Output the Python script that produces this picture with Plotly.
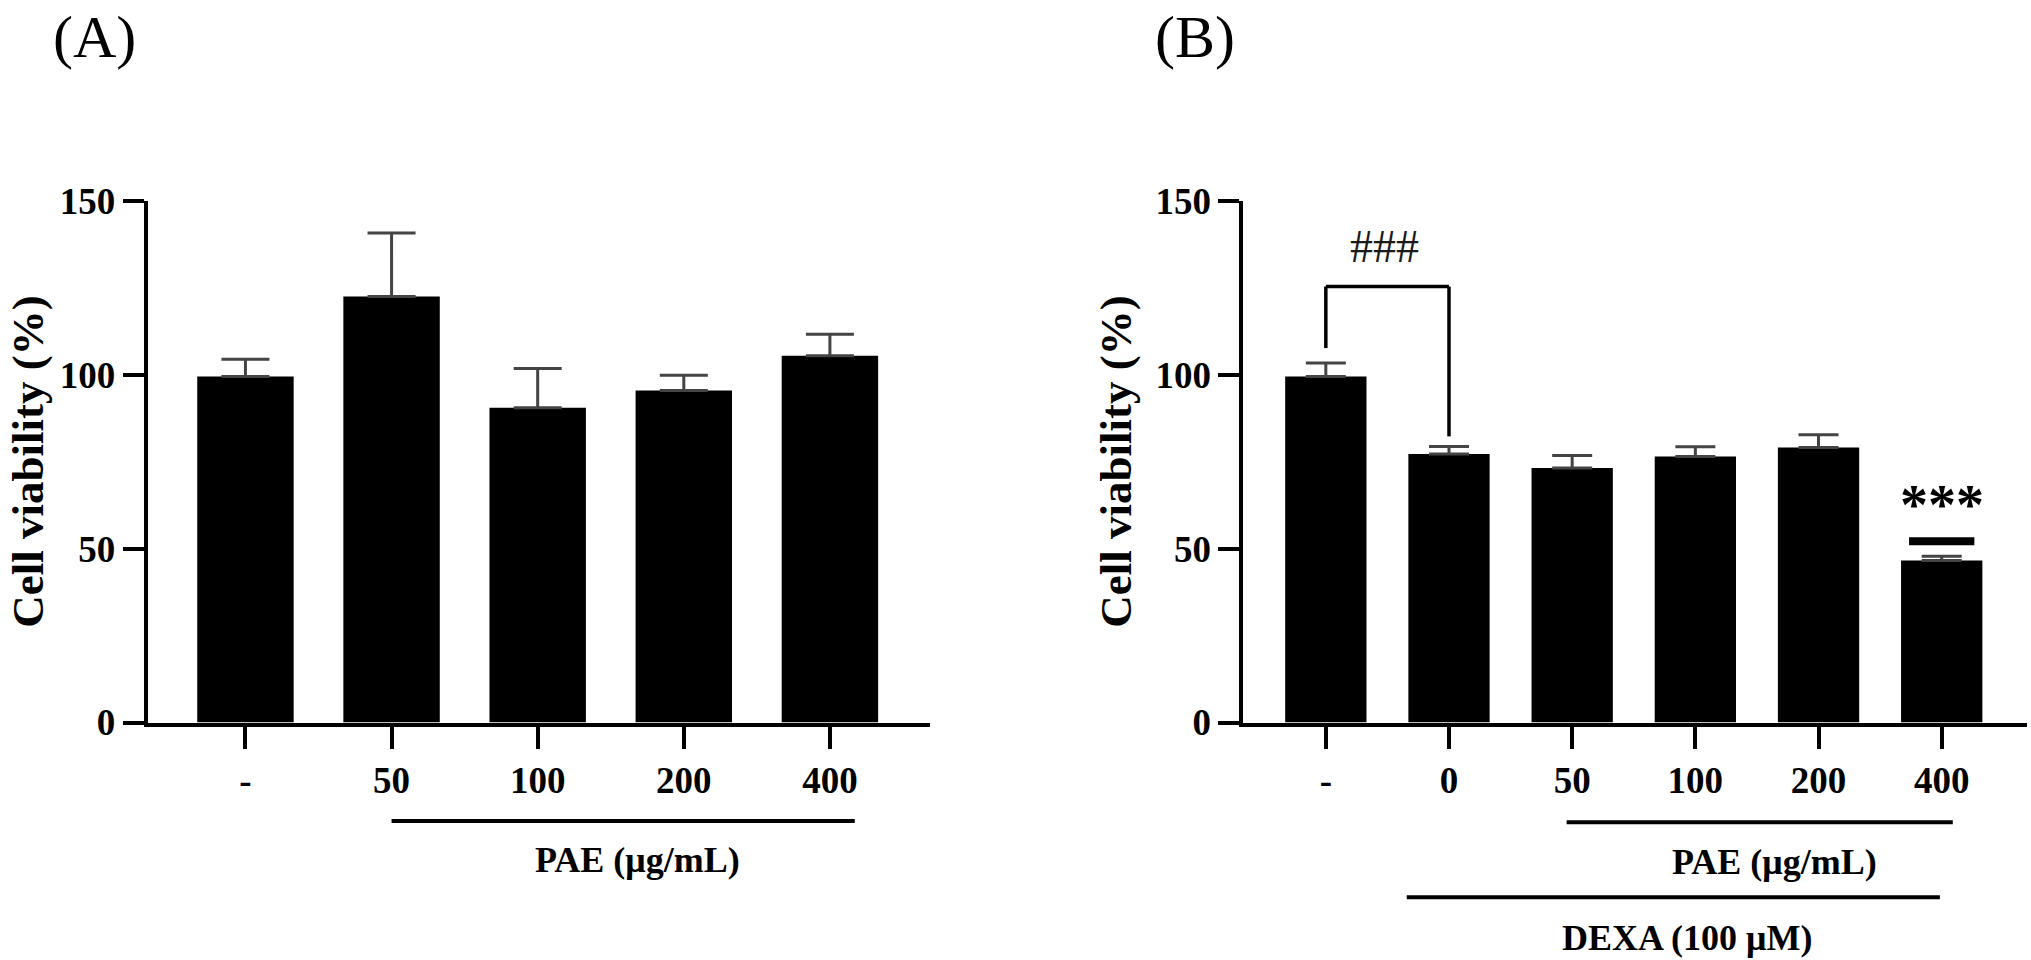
import plotly.graph_objects as go

# ---- data ----
cats_A = ["-", "50", "100", "200", "400"]
mean_A = [99.5, 122.5, 90.5, 95.5, 105.5]
err_A = [5.0, 18.3, 11.3, 4.4, 6.2]

cats_B = ["-", "0", "50", "100", "200", "400"]
mean_B = [99.5, 77.2, 73.2, 76.5, 79.1, 46.6]
err_B = [3.9, 2.2, 3.6, 2.8, 3.7, 1.2]

y_ticks = [0, 50, 100, 150]

SERIF = "Liberation Serif, Times New Roman, serif"
W, H = 2031, 960

fig = go.Figure()

fig.add_trace(go.Bar(
    x=cats_A, y=mean_A, xaxis="x", yaxis="y", width=0.66,
    marker=dict(color="black", line=dict(width=0)),
    error_y=dict(type="data", symmetric=False, array=err_A,
                 arrayminus=[0] * len(err_A), color="#444444",
                 thickness=3, width=24),
    showlegend=False))

fig.add_trace(go.Bar(
    x=cats_B, y=mean_B, xaxis="x2", yaxis="y2", width=0.66,
    marker=dict(color="black", line=dict(width=0)),
    error_y=dict(type="data", symmetric=False, array=err_B,
                 arrayminus=[0] * len(err_B), color="#444444",
                 thickness=3, width=20),
    showlegend=False))

ydom = [(960 - 722.5) / H, (960 - 201) / H]
xdomA = [147.7 / W, 930 / W]
xdomB = [1243.3 / W, 2026.7 / W]

tickfont = dict(family=SERIF, size=37, color="black", weight="bold")

common_x = dict(type="category", showline=True, linewidth=4, linecolor="black",
                ticks="outside", ticklen=22, tickwidth=4, tickcolor="black",
                tickfont=tickfont, showgrid=False, zeroline=False,
                fixedrange=True, automargin=False)
common_y = dict(showline=True, linewidth=4, linecolor="black",
                ticks="outside", ticklen=21, tickwidth=4, tickcolor="black",
                tickfont=tickfont, showgrid=False, zeroline=False,
                range=[0, 150], tickvals=y_ticks, domain=ydom,
                automargin=False)

fig.update_layout(
    template="none",
    width=W, height=H,
    margin=dict(l=0, r=0, t=0, b=0, pad=0),
    paper_bgcolor="white", plot_bgcolor="white",
    xaxis=dict(common_x, domain=xdomA, range=[-0.669, 4.685], anchor="y"),
    yaxis=dict(common_y, anchor="x"),
    xaxis2=dict(common_x, domain=xdomB, range=[-0.67, 5.69], anchor="y2"),
    yaxis2=dict(common_y, anchor="x2"),
)

shapes = []
annotations = []

# Panel titles
annotations.append(dict(text="(A)", xref="paper", yref="paper", x=94 / W, y=(960 - 37) / H,
                        xanchor="center", yanchor="middle", showarrow=False,
                        font=dict(family=SERIF, size=60, color="black")))
annotations.append(dict(text="(B)", xref="paper", yref="paper", x=1195 / W, y=(960 - 37) / H,
                        xanchor="center", yanchor="middle", showarrow=False,
                        font=dict(family=SERIF, size=60, color="black")))

# Y-axis titles
for xc in (28, 1116):
    annotations.append(dict(text="Cell viability (%)", xref="paper", yref="paper",
                            x=xc / W, y=(ydom[0] + ydom[1]) / 2, textangle=-90,
                            xanchor="center", yanchor="middle", showarrow=False,
                            font=dict(family=SERIF, size=45, color="black", weight="bold")))

labfont = dict(family=SERIF, size=36, color="black", weight="bold")

# Panel A underline + label
shapes.append(dict(type="line", xref="x", yref="paper", x0=1.0, x1=4.17,
                   y0=(960 - 821) / H, y1=(960 - 821) / H,
                   line=dict(color="black", width=4)))
annotations.append(dict(text="PAE (μg/mL)", xref="x", yref="paper", x=2.68, y=(960 - 860) / H,
                        xanchor="center", yanchor="middle", showarrow=False, font=labfont))

# Panel B underlines + labels
shapes.append(dict(type="line", xref="x2", yref="paper", x0=1.955, x1=5.09,
                   y0=(960 - 822.3) / H, y1=(960 - 822.3) / H,
                   line=dict(color="black", width=4)))
annotations.append(dict(text="PAE (μg/mL)", xref="x2", yref="paper", x=3.646, y=(960 - 861.7) / H,
                        xanchor="center", yanchor="middle", showarrow=False, font=labfont))
shapes.append(dict(type="line", xref="x2", yref="paper", x0=0.657, x1=4.985,
                   y0=(960 - 897.3) / H, y1=(960 - 897.3) / H,
                   line=dict(color="black", width=4)))
annotations.append(dict(text="DEXA (100 μM)", xref="x2", yref="paper", x=2.932, y=(960 - 938.3) / H,
                        xanchor="center", yanchor="middle", showarrow=False, font=labfont))

# Significance bracket ###
br = dict(color="black", width=3.5)
shapes.append(dict(type="line", xref="x2", yref="y2", x0=0, x1=0, y0=107.7, y1=125.4, line=br))
shapes.append(dict(type="line", xref="x2", yref="y2", x0=0, x1=1, y0=125.4, y1=125.4, line=br))
shapes.append(dict(type="line", xref="x2", yref="y2", x0=1, x1=1, y0=125.4, y1=82.3, line=br))
annotations.append(dict(text="###", xref="x2", yref="y2", x=0.48, y=137,
                        xanchor="center", yanchor="middle", showarrow=False,
                        font=dict(family=SERIF, size=46, color="#1a1a1a")))

# *** marker above last bar
shapes.append(dict(type="line", xref="x2", yref="y2", x0=5 - 0.265, x1=5 + 0.265,
                   y0=52.1, y1=52.1, line=dict(color="black", width=8)))
annotations.append(dict(text="***", xref="x2", yref="y2", x=5, y=62.6,
                        xanchor="center", yanchor="middle", showarrow=False,
                        font=dict(family=SERIF, size=56, color="black", weight="bold")))

fig.update_layout(shapes=shapes, annotations=annotations)

fig.write_html("out.html")
